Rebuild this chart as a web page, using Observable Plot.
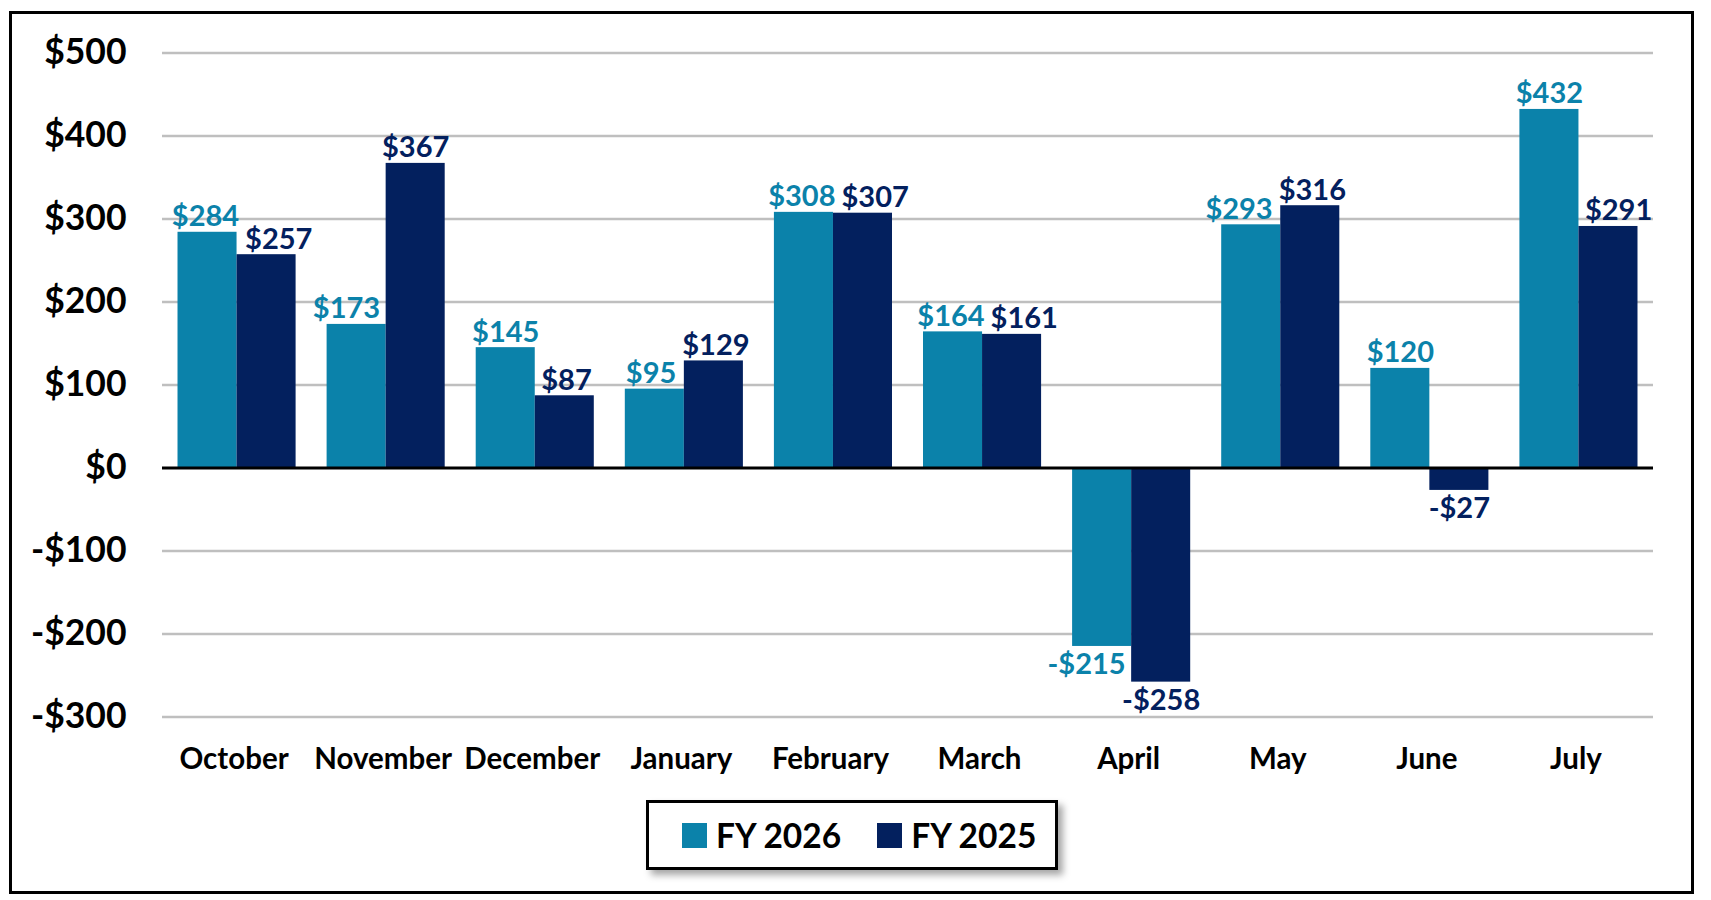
<!DOCTYPE html>
<html>
<head>
<meta charset="utf-8">
<script src="https://cdn.jsdelivr.net/npm/d3@7"></script>
<script src="https://cdn.jsdelivr.net/npm/@observablehq/plot@0.6"></script>
<style>
  html, body { margin: 0; padding: 0; background: #fff; }
  body { width: 1711px; height: 900px; position: relative; font-family: Lato, "Open Sans", sans-serif; }
  #frame { position: absolute; left: 9px; top: 11px; width: 1685px; height: 883px; border: 3px solid #000; box-sizing: border-box; }
  #chart { position: absolute; left: 0; top: 0; }
  #legend { position: absolute; left: 646px; top: 800px; width: 412px; height: 70px; border: 3px solid #000; box-sizing: border-box;
            background: #fff; box-shadow: 5px 5px 7px rgba(0,0,0,0.35); display: flex; align-items: center; padding-left: 33px;
            font-family: Lato, sans-serif; font-weight: 700; font-size: 33.5px; color: #000; white-space: nowrap; }
  .sw { width: 25px; height: 25px; display: inline-block; margin-right: 9px; flex: none; }
  .item { display: flex; align-items: center; margin-right: 36px; white-space: nowrap; }
</style>
</head>
<body>
<div id="frame"></div>
<div id="chart"></div>
<div id="legend"></div>
<script>
const months = ["October", "November", "December", "January", "February", "March", "April", "May", "June", "July"];
const fy2026 = [284, 173, 145, 95, 308, 164, -215, 293, 120, 432];
const fy2025 = [257, 367, 87, 129, 307, 161, -258, 316, -27, 291];
const seriesNames = ["FY 2026", "FY 2025"];
const seriesColors = ["#0B82AA", "#03205E"];
const yTicks = [-300, -200, -100, 0, 100, 200, 300, 400, 500];

const W = 1711, H = 780, ML = 162, MR = 58, MT = 52.5, MB = 63.5;
const labelFont = 29;
const barW = 0.396;
const money = v => (v < 0 ? "-$" : "$") + Math.abs(v);

// measure label widths so that labels are nudged off a taller neighbour bar and off each other
const ctx = document.createElement("canvas").getContext("2d");
ctx.font = `700 ${labelFont}px Lato`;
const pxPerX = (W - ML - MR) / months.length;
const pxPerY = (H - MT - MB) / 800;
const gap = 6;

const rows = [];
months.forEach((m, i) => {
  const a = {i, month: m, series: "FY 2026", value: fy2026[i], x1: i - barW, x2: i};
  const b = {i, month: m, series: "FY 2025", value: fy2025[i], x1: i, x2: i + barW};
  const e = i * pxPerX; // shared edge, px relative
  const wa = ctx.measureText(money(a.value)).width, wb = ctx.measureText(money(b.value)).width;
  let ca = e - barW * pxPerX / 2, cb = e + barW * pxPerX / 2;
  const beyond = (v, w) => (v >= 0 ? w > v : w < v);
  if (beyond(a.value, b.value) && ca + wa / 2 > e - gap) ca = e - gap - wa / 2;
  if (beyond(b.value, a.value) && cb - wb / 2 < e + gap) cb = e + gap + wb / 2;
  const sameSide = (a.value >= 0) === (b.value >= 0);
  if (sameSide && Math.abs(a.value - b.value) * pxPerY < labelFont * 1.05) {
    const overlap = (wa + wb) / 2 + gap - (cb - ca);
    if (overlap > 0) { ca -= overlap / 2; cb += overlap / 2; }
  }
  a.lx = ca / pxPerX; b.lx = cb / pxPerX;
  rows.push(a, b);
});

const chart = Plot.plot({
  width: W,
  height: H,
  marginLeft: ML,
  marginRight: MR,
  marginTop: MT,
  marginBottom: MB,
  style: {fontFamily: "Lato, sans-serif", fontWeight: 700, color: "#000", background: "transparent", overflow: "visible"},
  x: {type: "linear", domain: [-0.5, months.length - 0.5], axis: null},
  y: {domain: [-300, 500], axis: null},
  color: {domain: seriesNames, range: seriesColors},
  marks: [
    Plot.ruleY(yTicks.filter(d => d !== 0), {stroke: "#BFBFBF", strokeWidth: 2.5}),
    Plot.rectY(rows, {x1: "x1", x2: "x2", y: "value", fill: "series"}),
    Plot.ruleY([0], {stroke: "#000", strokeWidth: 3}),
    Plot.text(rows.filter(r => r.value >= 0), {x: "lx", y: "value", text: d => money(d.value), fill: "series", lineAnchor: "bottom", dy: -6, fontSize: labelFont, fontWeight: 700}),
    Plot.text(rows.filter(r => r.value < 0), {x: "lx", y: "value", text: d => money(d.value), fill: "series", lineAnchor: "top", dy: 7, fontSize: labelFont, fontWeight: 700}),
    Plot.axisY({ticks: yTicks, tickFormat: money, tickSize: 0, tickPadding: 36, fontSize: 35.5, fontWeight: 700, label: null}),
    Plot.axisX({ticks: d3.range(months.length), tickFormat: i => months[i], tickSize: 0, tickPadding: 31, dx: -3, fontSize: 29.5, fontWeight: 700, label: null})
  ]
});
document.getElementById("chart").appendChild(chart);

const legend = document.getElementById("legend");
seriesNames.forEach((name, k) => {
  const item = document.createElement("div");
  item.className = "item";
  const sw = document.createElement("span");
  sw.className = "sw";
  sw.style.background = seriesColors[k];
  item.appendChild(sw);
  item.appendChild(document.createTextNode(name));
  legend.appendChild(item);
});
</script>
</body>
</html>
